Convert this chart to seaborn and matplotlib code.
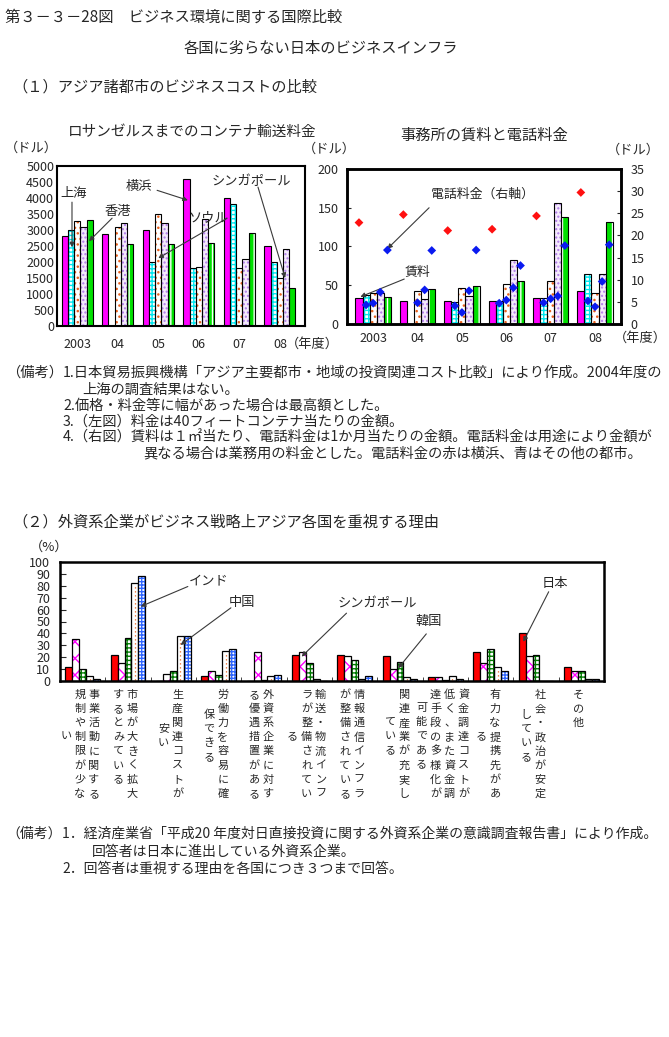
import numpy as np
import pandas as pd
import seaborn as sns
import matplotlib.pyplot as plt
from matplotlib.patches import Rectangle
from matplotlib.transforms import blended_transform_factory

sns.set_style('white')
plt.rcParams['font.family'] = ['Noto Sans CJK JP', 'DejaVu Sans']
plt.rcParams['hatch.linewidth'] = 1.0

W, H = 669, 1037
nan = np.nan

# ---------------- (1) business costs of Asian cities ----------------
years = ['2003', '04', '05', '06', '07', '08']
cities = ['横浜', '上海', 'ソウル', 'シンガポール', '香港']

# container freight to Los Angeles (dollars)
freight_yokohama = [2800, 2890, 3000, 4580, 4000, 2500]
freight_shanghai = [3000, nan, 2000, 1800, 3800, 2000]
freight_seoul = [3270, 3080, 3500, 1830, 1800, 1500]
freight_singapore = [3080, 3230, 3230, 3330, 2080, 2400]
freight_hongkong = [3300, 2550, 2550, 2580, 2900, 1180]

# office rent (dollars, left axis)
rent_yokohama = [34, 30, 30, 30, 34, 42]
rent_shanghai = [37, nan, 28, 30, 33, 64]
rent_seoul = [40, 43, 46, 52, 56, 40]
rent_singapore = [40, 32, 36, 82, 156, 64]
rent_hongkong = [35, 45, 49, 55, 138, 132]

# telephone charge (dollars, right axis)
phone_yokohama = [22.9, 24.7, 21.1, 21.4, 24.4, 29.7]
phone_shanghai = [4.3, nan, 4.1, 4.7, 4.8, 5.2]
phone_seoul = [4.7, 4.8, 2.6, 5.4, 5.7, 3.9]
phone_singapore = [7.2, 7.7, 7.5, 8.2, 6.3, 9.6]
phone_hongkong = [16.7, 16.6, 16.7, 13.2, 17.7, 17.9]

# ---------------- (2) reasons for valuing each country ----------------
countries = ['日本', 'シンガポール', '韓国', '中国', 'インド']
reason_cols = [
    ['事業活動に関する', '規制や制限が少な', 'い'],
    ['市場が大きく拡大', 'するとみている'],
    ['生産関連コストが', '安い'],
    ['労働力を容易に確', '保できる'],
    ['外資系企業に対す', 'る優遇措置がある'],
    ['輸送・物流インフ', 'ラが整備されてい', 'る'],
    ['情報通信インフラ', 'が整備されている'],
    ['関連産業が充実し', 'ている'],
    ['資金調達コストが', '低く、また資金調', '達手段の多様化が', '可能である'],
    ['有力な提携先があ', 'る'],
    ['社会・政治が安定', 'している'],
    ['その他'],
]
pct_japan = [12, 22, 0, 4, 0, 22, 22, 21, 3, 24, 40, 12]
pct_singapore = [35, 15, 6, 8, 24, 24, 21, 10, 3, 15, 21, 8]
pct_korea = [10, 36, 8, 5, 1, 15, 18, 16, 1, 27, 22, 8]
pct_china = [4, 82, 38, 25, 4, 2, 2, 3, 4, 12, 0, 2]
pct_india = [2, 88, 38, 27, 5, 0, 4, 2, 2, 8, 0, 2]

top_styles = {
    '横浜': ('#FF00FF', None, None),
    '上海': ('white', '++++', '#00E8F0'),
    'ソウル': ('white', '...', '#E8601C'),
    'シンガポール': ('#F4EAFC', '....', '#B07CE8'),
    '香港': ('#00E000', '||', 'white'),
}
bottom_styles = {
    '日本': ('#FF0000', None, None),
    'シンガポール': ('white', 'xx', '#FF00FF'),
    '韓国': ('white', '++++', '#007A00'),
    '中国': ('white', None, None),
    'インド': ('white', '+++++', '#2F66FF'),
}


def to_long(cats, names, series):
    rows = []
    for name, vals in zip(names, series):
        for c, v in zip(cats, vals):
            if not np.isnan(v):
                rows.append((c, name, v))
    return pd.DataFrame(rows, columns=['cat', 'name', 'value'])


def paint(ax, names, styles, lw=0.8):
    for name, cont in zip(names, ax.containers):
        face, hatch, hcol = styles[name]
        for bar in cont:
            bar.set_facecolor(face)
            if hatch:
                bar.set_hatch(hatch)
                bar.set_edgecolor(hcol)
                if hasattr(bar, 'set_hatchcolor'):
                    bar.set_hatchcolor(hcol)
                bar.set_linewidth(0)
                ax.add_patch(Rectangle((bar.get_x(), bar.get_y()), bar.get_width(), bar.get_height(),
                                       fill=False, ec='black', lw=lw, zorder=bar.get_zorder() + 0.5))


def frame(ax, lw=1.5):
    for s in ax.spines.values():
        s.set_color('black')
        s.set_linewidth(lw)
        s.set_visible(True)


def ftext(x, y, s, size=10.3, **kw):
    fig.text(x / W, 1 - y / H, s, fontsize=size, va='center', **kw)


def box(l, t, r, b):
    return [l / W, 1 - b / H, (r - l) / W, (b - t) / H]


arrow = dict(arrowstyle='-|>', color='#3a3a3a', lw=0.8, mutation_scale=7, shrinkA=0, shrinkB=0)


def pointer(ax, label, txt, tail, head, size=9.5):
    ax.text(txt[0], txt[1], label, fontsize=size, ha='center', va='center', zorder=5)
    ax.annotate('', xy=head, xytext=tail, arrowprops=arrow, zorder=5)


fig = plt.figure(figsize=(W / 100, H / 100), dpi=100)

# ---------- left: container freight ----------
ax1 = fig.add_axes(box(57, 166, 305, 326))
df1 = to_long(years, cities, [freight_yokohama, freight_shanghai, freight_seoul,
                              freight_singapore, freight_hongkong])
sns.barplot(data=df1, x='cat', y='value', hue='name', order=years, hue_order=cities,
            palette={c: top_styles[c][0] for c in cities}, width=0.765, saturation=1,
            errorbar=None, edgecolor='black', linewidth=0.8, legend=False, ax=ax1)
paint(ax1, cities, top_styles)
ax1.set_xlim(-0.5, 5.62)
ax1.set_ylim(0, 5000)
ax1.set_yticks(range(0, 5001, 500))
ax1.set_xlabel('')
ax1.set_ylabel('')
ax1.tick_params(axis='y', direction='in', length=3, labelsize=9, pad=2)
ax1.tick_params(axis='x', length=0, labelsize=9, pad=9)
frame(ax1)
pointer(ax1, '上海', (-0.10, 4150), (-0.13, 3870), (-0.13, 2460))
pointer(ax1, '香港', (1.0, 3590), (0.86, 3370), (0.29, 2650))
pointer(ax1, '横浜', (1.52, 4370), (1.97, 4240), (2.73, 3930))
pointer(ax1, 'ソウル', (3.22, 3400), (3.7, 3370), (2.0, 2120))
pointer(ax1, 'シンガポール', (4.3, 4520), (4.46, 4340), (5.13, 1500))

# ---------- right: rent and telephone ----------
ax2 = fig.add_axes(box(347, 169, 621, 324))
df2 = to_long(years, cities, [rent_yokohama, rent_shanghai, rent_seoul,
                              rent_singapore, rent_hongkong])
bar_w2 = 0.8
sns.barplot(data=df2, x='cat', y='value', hue='name', order=years, hue_order=cities,
            palette={c: top_styles[c][0] for c in cities}, width=bar_w2, saturation=1,
            errorbar=None, edgecolor='black', linewidth=0.8, legend=False, ax=ax2)
paint(ax2, cities, top_styles)
ax2.set_xlim(-0.59, 5.585)
ax2.set_ylim(0, 200)
ax2.set_yticks(range(0, 201, 50))
ax2.set_xlabel('')
ax2.set_ylabel('')
ax2.tick_params(axis='y', direction='in', length=3, labelsize=9, pad=6)
ax2.tick_params(axis='x', length=0, labelsize=9, pad=6)
frame(ax2, 1.8)

phones = [phone_yokohama, phone_shanghai, phone_seoul, phone_singapore, phone_hongkong]
prow = []
for k, (city, vals) in enumerate(zip(cities, phones)):
    for i, v in enumerate(vals):
        if not np.isnan(v):
            prow.append((i + (k - 2) * bar_w2 / 5, v, '横浜' if city == '横浜' else 'その他'))
dfp = pd.DataFrame(prow, columns=['x', 'phone', 'grp'])
ax2r = ax2.twinx()
sns.scatterplot(data=dfp, x='x', y='phone', hue='grp', palette={'横浜': '#FF1010', 'その他': '#0A1AF0'},
                marker='D', s=20, linewidth=0, legend=False, ax=ax2r, zorder=4)
ax2r.set_ylim(0, 35)
ax2r.set_yticks(range(0, 36, 5))
ax2r.set_xlim(-0.59, 5.585)
ax2r.set_xlabel('')
ax2r.set_ylabel('')
ax2r.tick_params(axis='y', direction='in', length=3, labelsize=9, pad=7)
frame(ax2r, 1.8)
pointer(ax2, '電話料金（右軸）', (2.47, 168), (1.26, 150), (0.32, 97), size=9.3)
pointer(ax2, '賃料', (0.99, 66), (0.70, 58), (-0.29, 35), size=9.3)

# ---------- bottom: reasons ----------
ax3 = fig.add_axes(box(60, 562, 604, 681))
rkeys = [f'r{i}' for i in range(len(reason_cols))]
df3 = to_long(rkeys, countries, [pct_japan, pct_singapore, pct_korea, pct_china, pct_india])
sns.barplot(data=df3, x='cat', y='value', hue='name', order=rkeys, hue_order=countries,
            palette={c: bottom_styles[c][0] for c in countries}, width=0.77, saturation=1,
            errorbar=None, edgecolor='black', linewidth=0.9, legend=False, ax=ax3)
paint(ax3, countries, bottom_styles, lw=0.9)
for bar in ax3.containers[countries.index('中国')]:
    if bar.get_height() > 0:
        cx = bar.get_x() + bar.get_width() / 2
        ax3.plot([cx, cx], [0.5, bar.get_height() - 0.8], color='#E8601C', lw=0.9,
                 ls=(0, (1, 2.2)), zorder=2)
ax3.set_xlim(-0.5, 11.5)
ax3.set_ylim(0, 100)
ax3.set_yticks(range(0, 101, 10))
ax3.set_xticks([])
ax3.set_xticks(np.arange(-0.5, 12, 1), minor=True)
ax3.set_xlabel('')
ax3.set_ylabel('')
ax3.tick_params(axis='y', direction='in', length=4, labelsize=9, pad=7, left=True)
ax3.tick_params(axis='x', which='minor', direction='in', length=3, bottom=True)
frame(ax3, 1.8)
pointer(ax3, 'インド', (2.77, 83.7), (2.32, 79.4), (1.28, 62.6))
pointer(ax3, '中国', (3.51, 65.7), (3.27, 61.5), (2.16, 30.3))
pointer(ax3, 'シンガポール', (6.49, 65.5), (5.82, 57), (4.83, 20.5))
pointer(ax3, '韓国', (7.64, 50), (7.58, 39.6), (6.96, 10.7))
pointer(ax3, '日本', (10.42, 82.3), (10.28, 75), (9.72, 33))

# vertical (tategaki) category labels, columns right to left
trans = blended_transform_factory(ax3.transData, fig.transFigure)
step = 14 / 45.3
for i, cols in enumerate(reason_cols):
    n = len(cols)
    for k, col in enumerate(cols):
        x = i - 0.06 + ((n - 1) / 2 - k) * step
        m = len(col)
        for r, ch in enumerate(col):
            if k == 0 or m >= 7:
                y = 695 + 14.1 * r
            else:
                y = 736 + (r - (m - 1) / 2) * 14.1
            ax3.text(x, 1 - y / H, ch, transform=trans, ha='center', va='center', fontsize=8)

# ---------- headings and notes ----------
ftext(5, 17, '第３－３－28図　ビジネス環境に関する国際比較', 11)
ftext(321, 48, '各国に劣らない日本のビジネスインフラ', 11, ha='center')
ftext(12, 87, '（１）アジア諸都市のビジネスコストの比較', 11)
ftext(192, 132, 'ロサンゼルスまでのコンテナ輸送料金', 10.5, ha='center')
ftext(484, 135, '事務所の賃料と電話料金', 11, ha='center')
ftext(5, 148, '（ドル）', 9.5)
ftext(303, 149, '（ドル）', 9.5)
ftext(607, 150, '（ドル）', 9.5)
ftext(286, 344, '（年度）', 9.5)
ftext(614, 338, '（年度）', 9.5)

ftext(6, 373, '（備考）')
ftext(63, 373, '1.日本貿易振興機構「アジア主要都市・地域の投資関連コスト比較」により作成。2004年度の')
ftext(82, 390, '上海の調査結果はない。')
ftext(63, 406, '2.価格・料金等に幅があった場合は最高額とした。')
ftext(63, 422, '3.（左図）料金は40フィートコンテナ当たりの金額。')
ftext(63, 438, '4.（右図）賃料は１㎡当たり、電話料金は1か月当たりの金額。電話料金は用途により金額が')
ftext(143, 453, '異なる場合は業務用の料金とした。電話料金の赤は横浜、青はその他の都市。')

ftext(12, 522, '（２）外資系企業がビジネス戦略上アジア各国を重視する理由', 11)
ftext(30, 547, '（%）', 9.5)

ftext(6, 834, '（備考）', 10)
ftext(62, 834, '1．経済産業省「平成20 年度対日直接投資に関する外資系企業の意識調査報告書」により作成。', 10)
ftext(92, 852, '回答者は日本に進出している外資系企業。', 10)
ftext(62, 869, '2．回答者は重視する理由を各国につき３つまで回答。', 10)

fig.savefig('out.png', dpi=100)
